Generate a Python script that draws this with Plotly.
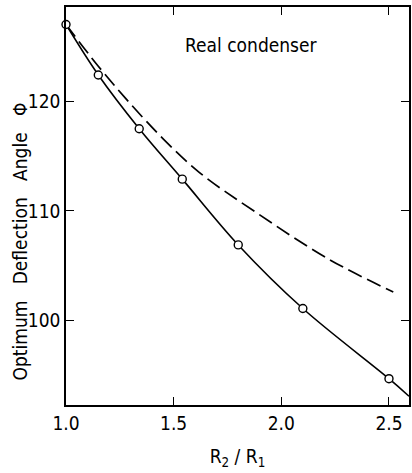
import plotly.graph_objects as go

# Radius ratio R2/R1 and optimum deflection angle (degrees)
ratio_pts = [1.0, 1.15, 1.34, 1.54, 1.80, 2.10, 2.50]
angle_pts = [127.0, 122.4, 117.5, 112.9, 106.9, 101.1, 94.7]

# Fitted curve through the computed points, continued to the frame edge
ratio_fit = [1.0, 1.15, 1.34, 1.54, 1.80, 2.10, 2.50, 2.593]
angle_fit = [127.0, 122.4, 117.5, 112.9, 106.9, 101.1, 94.7, 93.1]

# Dashed comparison curve
ratio_dash = [1.0, 1.15, 1.28, 1.45, 1.62, 1.88, 2.22, 2.52]
angle_dash = [127.0, 123.2, 120.2, 116.6, 113.5, 109.9, 105.6, 102.6]

x_ticks = [1.0, 1.5, 2.0, 2.5]
x_tick_text = ["1.0", "1.5", "2.0", "2.5"]
y_ticks = [100, 110, 120]

FONT = "Liberation Sans Narrow, DejaVu Sans Condensed, Arial Narrow, sans-serif"

fig = go.Figure()

fig.add_trace(go.Scatter(
    x=ratio_dash, y=angle_dash, mode="lines",
    line=dict(color="black", width=1.7, dash="15px,6px", shape="spline", smoothing=1.0),
    hoverinfo="skip", showlegend=False,
))
fig.add_trace(go.Scatter(
    x=ratio_fit, y=angle_fit, mode="lines",
    line=dict(color="black", width=1.6, shape="spline", smoothing=1.0),
    hoverinfo="skip", showlegend=False,
))
fig.add_trace(go.Scatter(
    x=ratio_pts, y=angle_pts, mode="markers",
    marker=dict(symbol="circle", size=8, color="white",
                line=dict(color="black", width=1.4)),
    cliponaxis=False, showlegend=False,
))

fig.add_annotation(
    x=1.862, y=125.1, xref="x", yref="y",
    text="Real condenser", showarrow=False,
    font=dict(family=FONT, size=19, color="black"),
)

# Vertical axis title, placed as a rotated label left of the frame
fig.add_annotation(
    x=-0.135, y=0.41, xref="paper", yref="paper",
    xanchor="center", yanchor="middle", textangle=-90,
    text="Optimum   Deflection   Angle   Φ", showarrow=False,
    font=dict(family=FONT, size=19, color="black"),
)

axis_common = dict(
    showline=True, linecolor="black", linewidth=1.6, mirror="ticks",
    ticks="inside", ticklen=8, tickwidth=1.4, tickcolor="black",
    showgrid=False, zeroline=False,
    tickfont=dict(family=FONT, size=19, color="black"),
)

fig.update_xaxes(
    range=[1.0, 2.593], tickvals=x_ticks, ticktext=x_tick_text,
    ticklabelstandoff=0,
    title=dict(text="R<sub>2</sub> / R<sub>1</sub>", standoff=17,
               font=dict(family=FONT, size=19, color="black")),
    **axis_common,
)
fig.update_yaxes(
    range=[92.3, 128.6], tickvals=y_ticks,
    ticklabelstandoff=0,
    **axis_common,
)

fig.update_layout(
    width=412, height=473,
    margin=dict(l=66, r=1, t=7, b=68),
    paper_bgcolor="white", plot_bgcolor="white",
)

fig.write_html("out.html")
